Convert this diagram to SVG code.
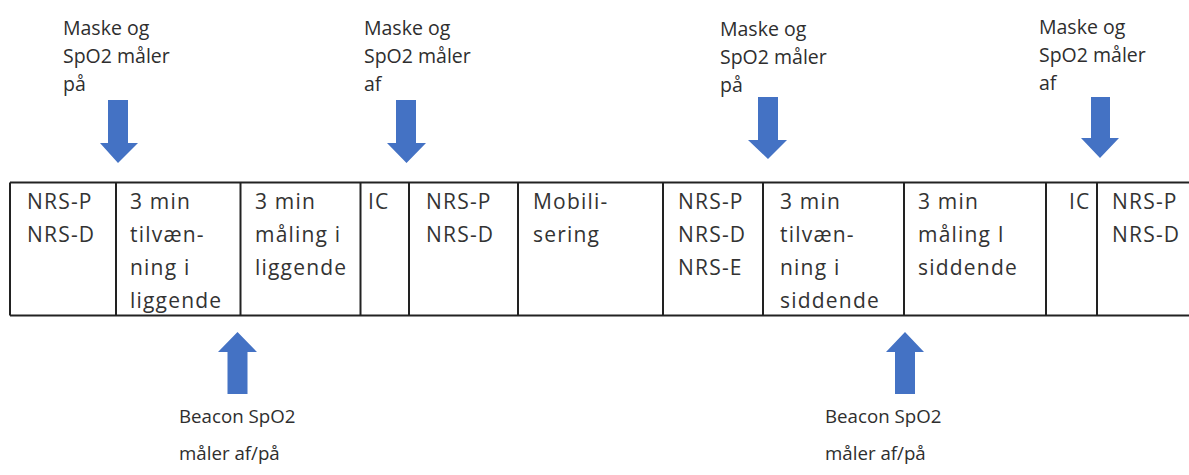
<svg xmlns="http://www.w3.org/2000/svg" width="1189" height="475" viewBox="0 0 1189 475">
<style>
.lbl{font-family:"Open Sans","Liberation Sans",sans-serif;font-size:19.5px;fill:#2e2e2e}
.blbl{font-family:"Open Sans","Liberation Sans",sans-serif;font-size:18.7px;fill:#2e2e2e}
.cell{font-family:"Open Sans","Liberation Sans",sans-serif;font-size:21px;letter-spacing:1.2px;fill:#333}
.arrow{fill:#4472C4}
.grid{stroke:#222;stroke-width:2;fill:none}
</style>
<rect width="1189" height="475" fill="#fff"/>
<g id="table">
<path class="grid" d="M10,182.5 H1189 M10,315.5 H1189 M10,182.5 V315.5 M116,182.5 V315.5 M240.5,182.5 V315.5 M360.5,182.5 V315.5 M409,182.5 V315.5 M518,182.5 V315.5 M663,182.5 V315.5 M763,182.5 V315.5 M904,182.5 V315.5 M1046,182.5 V315.5 M1097,182.5 V315.5"/>
</g>
<g id="cell1"><text class="cell" x="27" y="209">NRS-P</text><text class="cell" x="27" y="242">NRS-D</text></g>
<g id="cell2"><text class="cell" x="130" y="209">3 min</text><text class="cell" x="130" y="242">tilvæn-</text><text class="cell" x="130" y="275">ning i</text><text class="cell" x="130" y="308">liggende</text></g>
<g id="cell3"><text class="cell" x="255" y="209">3 min</text><text class="cell" x="255" y="242">måling i</text><text class="cell" x="255" y="275">liggende</text></g>
<g id="cell4"><text class="cell" x="368" y="209">IC</text></g>
<g id="cell5"><text class="cell" x="426" y="209">NRS-P</text><text class="cell" x="426" y="242">NRS-D</text></g>
<g id="cell6"><text class="cell" x="533" y="209">Mobili-</text><text class="cell" x="533" y="242">sering</text></g>
<g id="cell7"><text class="cell" x="678" y="209">NRS-P</text><text class="cell" x="678" y="242">NRS-D</text><text class="cell" x="678" y="275">NRS-E</text></g>
<g id="cell8"><text class="cell" x="780" y="209">3 min</text><text class="cell" x="780" y="242">tilvæn-</text><text class="cell" x="780" y="275">ning i</text><text class="cell" x="780" y="308">siddende</text></g>
<g id="cell9"><text class="cell" x="918" y="209">3 min</text><text class="cell" x="918" y="242">måling I</text><text class="cell" x="918" y="275">siddende</text></g>
<g id="cell10"><text class="cell" x="1069" y="209">IC</text></g>
<g id="cell11"><text class="cell" x="1112" y="209">NRS-P</text><text class="cell" x="1112" y="242">NRS-D</text></g>
<g id="label1"><text class="lbl" x="63" y="35">Maske og</text><text class="lbl" x="63" y="63">SpO2 måler</text><text class="lbl" x="63" y="91">på</text></g>
<g id="label2"><text class="lbl" x="364" y="35">Maske og</text><text class="lbl" x="364" y="63">SpO2 måler</text><text class="lbl" x="364" y="91">af</text></g>
<g id="label3"><text class="lbl" x="720" y="36">Maske og</text><text class="lbl" x="720" y="64">SpO2 måler</text><text class="lbl" x="720" y="92">på</text></g>
<g id="label4"><text class="lbl" x="1039" y="34">Maske og</text><text class="lbl" x="1039" y="62">SpO2 måler</text><text class="lbl" x="1039" y="90">af</text></g>
<g id="label5"><text class="blbl" x="179" y="423">Beacon SpO2</text><text class="blbl" x="179" y="460">måler af/på</text></g>
<g id="label6"><text class="blbl" x="825" y="423">Beacon SpO2</text><text class="blbl" x="825" y="460">måler af/på</text></g>
<g id="connectors">
<polygon class="arrow" points="108,100 128,100 128,143 138,143 118,163 100,143 108,143"/>
<polygon class="arrow" points="396,100 416,100 416,143 426,143 406.5,163 387,143 396,143"/>
<polygon class="arrow" points="758,97 778,97 778,140 787,140 768,159 748,140 758,140"/>
<polygon class="arrow" points="1091,97 1110,97 1110,138 1119,138 1100,158 1081,138 1091,138"/>
<polygon class="arrow" points="237.5,332 257,352 247.5,352 247.5,394 227.5,394 227.5,352 218,352"/>
<polygon class="arrow" points="905,332 924,352 915,352 915,394 895,394 895,352 886,352"/>
</g>
</svg>
